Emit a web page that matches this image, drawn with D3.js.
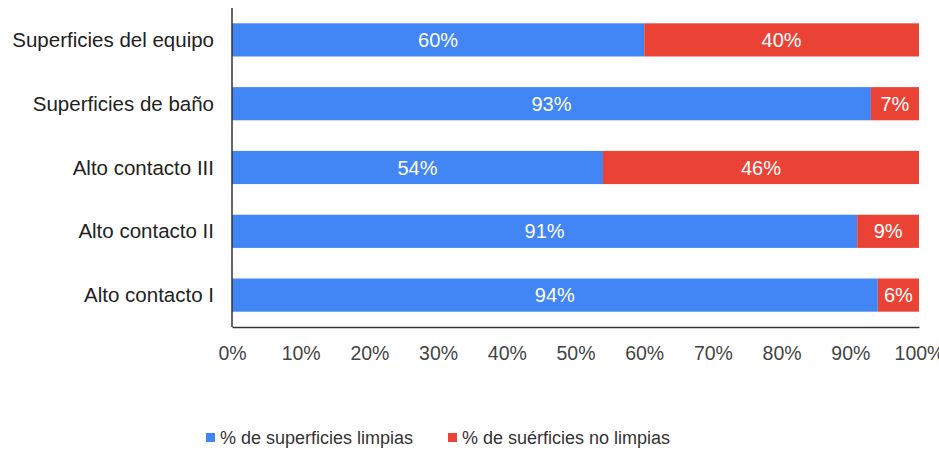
<!DOCTYPE html>
<html>
<head>
<meta charset="utf-8">
<script src="https://cdn.jsdelivr.net/npm/d3@7.9.0/dist/d3.min.js"></script>
<style>
  body { margin: 0; background: #fff; }
  svg { font-family: Arial, "Liberation Sans", sans-serif; }
</style>
</head>
<body>
<svg id="chart" width="939" height="453"></svg>
<script>
// data
const categories = ['Superficies del equipo', 'Superficies de baño', 'Alto contacto III', 'Alto contacto II', 'Alto contacto I'];
const limpias = [60, 93, 54, 91, 94];
const noLimpias = [40, 7, 46, 9, 6];
const seriesNames = ['% de superficies limpias', '% de suérficies no limpias'];
const tickValues = [0, 10, 20, 30, 40, 50, 60, 70, 80, 90, 100];

const colors = ['#4285f4', '#ea4335'];
const svg = d3.select('#chart');
const margin = { left: 232, right: 20, top: 8, bottom: 126 };
const width = 939, height = 453;

const x = d3.scaleLinear().domain([0, 100]).range([margin.left, width - margin.right]);
const y = d3.scaleBand().domain(categories).range([margin.top, height - margin.bottom]).paddingInner(0.48).paddingOuter(0.24);

const rows = categories.map((c, i) => ({ cat: c, a: limpias[i], b: noLimpias[i] }));
const stacked = d3.stack().keys(['a', 'b'])(rows);

stacked.forEach((layer, li) => {
  const g = svg.append('g');
  g.selectAll('rect')
    .data(layer)
    .join('rect')
    .attr('x', d => x(d[0]))
    .attr('width', d => x(d[1]) - x(d[0]))
    .attr('y', d => y(d.data.cat))
    .attr('height', y.bandwidth())
    .attr('fill', colors[li]);
  g.selectAll('text')
    .data(layer)
    .join('text')
    .attr('x', d => (x(d[0]) + x(d[1])) / 2)
    .attr('y', d => y(d.data.cat) + y.bandwidth() / 2)
    .attr('dy', '0.35em')
    .attr('text-anchor', 'middle')
    .attr('fill', '#fff')
    .attr('font-size', 20)
    .text(d => (d[1] - d[0]) + '%');
});

// category labels
svg.append('g')
  .selectAll('text')
  .data(categories)
  .join('text')
  .attr('x', 214)
  .attr('y', d => y(d) + y.bandwidth() / 2)
  .attr('dy', '0.35em')
  .attr('text-anchor', 'end')
  .attr('font-size', 20.5)
  .attr('fill', '#222')
  .text(d => d);

// axes
const xAxis = svg.append('g')
  .attr('transform', `translate(0,${height - margin.bottom})`)
  .call(d3.axisBottom(x).tickValues(tickValues).tickSize(0).tickPadding(19).tickFormat(d => d + '%'));
xAxis.select('.domain').attr('stroke', '#333').attr('stroke-width', 1.5);
xAxis.selectAll('text').attr('font-size', 19.5).attr('fill', '#444').attr('font-family', 'Arial, "Liberation Sans", sans-serif');

svg.append('line')
  .attr('x1', margin.left).attr('x2', margin.left)
  .attr('y1', margin.top).attr('y2', height - margin.bottom)
  .attr('stroke', '#333').attr('stroke-width', 1.5);

// legend
const legendX = [206, 448];
const legend = svg.append('g');
seriesNames.forEach((name, i) => {
  legend.append('rect')
    .attr('x', legendX[i]).attr('y', 433)
    .attr('width', 9).attr('height', 9)
    .attr('fill', colors[i]);
  legend.append('text')
    .attr('x', legendX[i] + 14).attr('y', 438)
    .attr('dy', '0.35em')
    .attr('font-size', 18)
    .attr('fill', '#333')
    .text(name);
});
</script>
</body>
</html>
